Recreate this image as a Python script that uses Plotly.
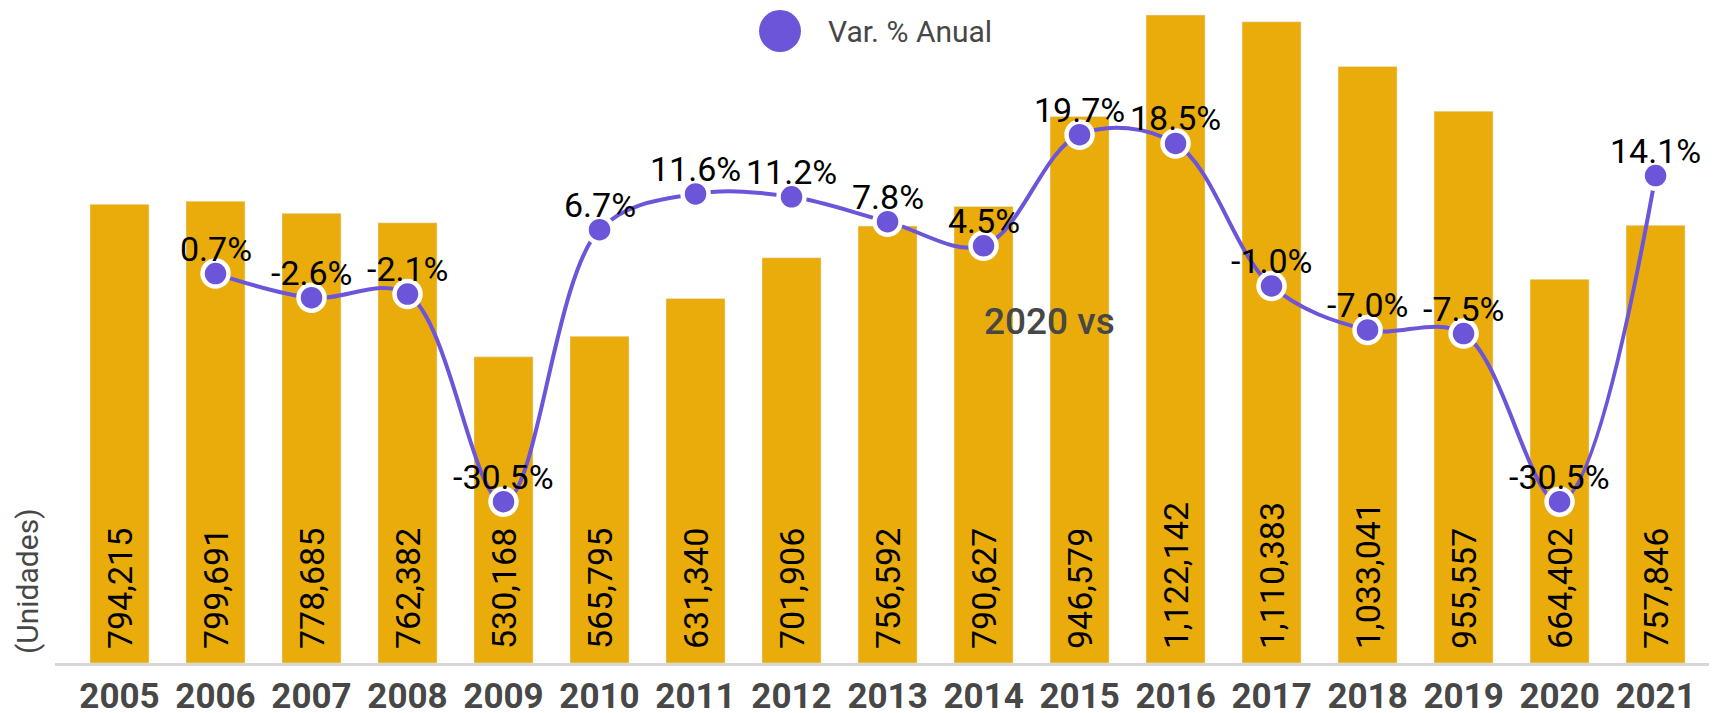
import plotly.graph_objects as go

# Datos
years = ['2005', '2006', '2007', '2008', '2009', '2010', '2011', '2012', '2013',
         '2014', '2015', '2016', '2017', '2018', '2019', '2020', '2021']
unidades = [794215, 799691, 778685, 762382, 530168, 565795, 631340, 701906, 756592,
            790627, 946579, 1122142, 1110383, 1033041, 955557, 664402, 757846]
var_anual = [None, 0.7, -2.6, -2.1, -30.5, 6.7, 11.6, 11.2, 7.8,
             4.5, 19.7, 18.5, -1.0, -7.0, -7.5, -30.5, 14.1]

GOLD = '#EAAC0A'
PURPLE = '#6C55D9'
GRAY = '#474747'
FONT = 'Roboto'

# la pagina deja 8px de margen en el body: la figura ocupa el resto de la ventana
W, H = 1717 - 8, 713 - 8
ML, MT, MB = 47, 2, 50
PW, PH = W - ML, H - MT - MB


def px_x(x):
    # posicion horizontal en pixeles de la ventana -> coordenada paper
    return (x - 8 - ML) / PW


def px_y(y):
    return (H - MB - (y - 8)) / PH


fig = go.Figure()

# Barras de unidades
fig.add_trace(go.Bar(
    x=years,
    y=unidades,
    marker_color=GOLD,
    showlegend=False,
))

# Linea de variacion anual
fig.add_trace(go.Scatter(
    x=years,
    y=var_anual,
    yaxis='y2',
    mode='lines+markers',
    line=dict(color=PURPLE, width=4, shape='spline', smoothing=1),
    marker=dict(size=26, color=PURPLE, line=dict(color='white', width=4.5)),
    showlegend=False,
    cliponaxis=False,
))

# Valores de las barras, girados y pegados a la base
for i, v in enumerate(unidades):
    fig.add_annotation(
        x=i, y=0, xref='x', yref='y',
        text=f'{v:,}', showarrow=False, textangle=-90,
        xanchor='center', yanchor='bottom', yshift=12,
        font=dict(family=FONT, size=34, color='black'),
    )

# Etiquetas de porcentaje sobre cada punto (x = indice de categoria)
for i, v in enumerate(var_anual):
    if v is None:
        continue
    fig.add_annotation(
        x=i, y=v, xref='x', yref='y2',
        text=f'{v:.1f}%', showarrow=False,
        yanchor='bottom', yshift=3,
        font=dict(family=FONT, size=34, color='black'),
    )

fig.update_layout(
    width=W,
    height=H,
    margin=dict(l=ML, r=0, t=MT, b=MB, pad=0),
    plot_bgcolor='white',
    paper_bgcolor='white',
    font=dict(family=FONT, color=GRAY),
    bargap=0.385,
    xaxis=dict(
        type='category',
        range=[-0.672, 16.64],
        automargin=False,
        showgrid=False,
        showline=True,
        linecolor='#d6d6d6',
        linewidth=3,
        ticks='',
        ticklabelstandoff=0,
        tickfont=dict(family=FONT, size=35, color=GRAY, weight='bold'),
    ),
    yaxis=dict(
        range=[0, 1130800],
        automargin=False,
        showgrid=False,
        zeroline=False,
        showticklabels=False,
    ),
    yaxis2=dict(
        overlaying='y',
        range=[-52.56, 36.75],
        automargin=False,
        showgrid=False,
        zeroline=False,
        showticklabels=False,
    ),
)

# Leyenda dibujada a mano (circulo grande)
fig.add_shape(
    type='circle',
    xref='paper', yref='paper',
    xsizemode='pixel', ysizemode='pixel',
    xanchor=px_x(780), yanchor=px_y(31),
    x0=-21, x1=21, y0=-21, y1=21,
    fillcolor=PURPLE, line_width=0,
)
fig.add_annotation(
    text='Var. % Anual', xref='paper', yref='paper',
    x=px_x(826), y=px_y(31), xanchor='left', yanchor='middle',
    showarrow=False, font=dict(family=FONT, size=30, color=GRAY),
)

# Texto suelto
fig.add_annotation(
    text='2020 vs', xref='paper', yref='paper',
    x=px_x(1049), y=px_y(322), xanchor='center', yanchor='middle',
    showarrow=False, font=dict(family=FONT, size=37, color=GRAY, weight=500),
)

# Titulo del eje
fig.add_annotation(
    text='(Unidades)', xref='paper', yref='paper',
    x=px_x(27), y=px_y(656), xanchor='center', yanchor='bottom',
    textangle=-90, showarrow=False,
    font=dict(family=FONT, size=30, color=GRAY),
)

fig.write_html('out.html')
